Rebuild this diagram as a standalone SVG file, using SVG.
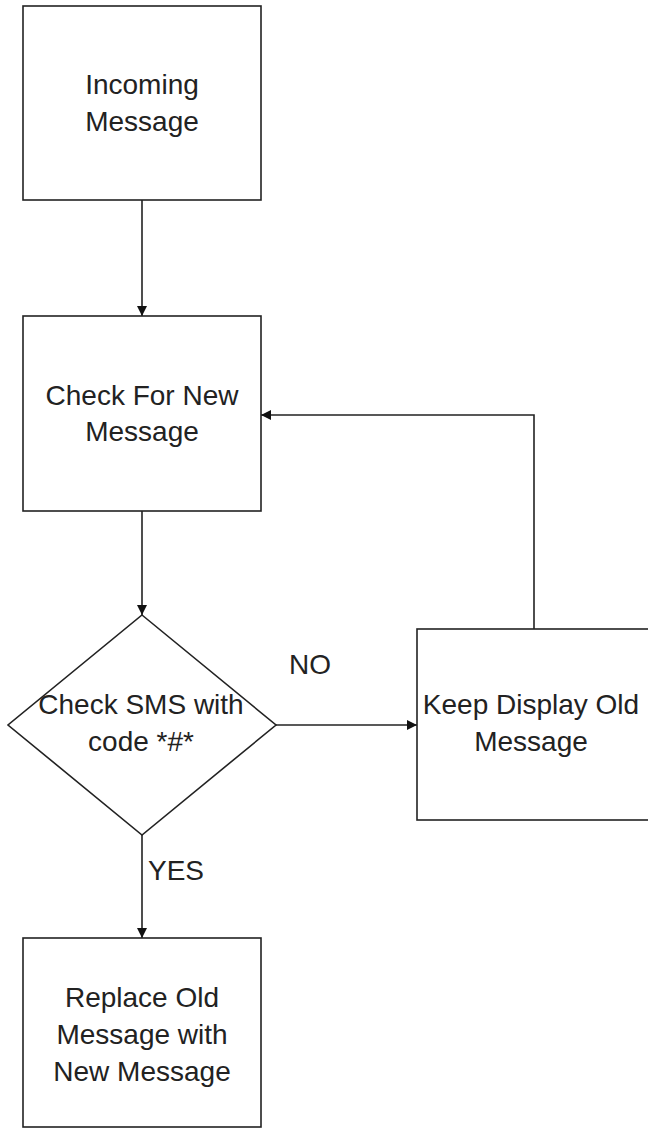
<svg xmlns="http://www.w3.org/2000/svg" width="648" height="1133" viewBox="0 0 648 1133">
<style>
.box{fill:#fff;stroke:#222;stroke-width:1.6}
.t{font-family:"Liberation Sans",Arial,sans-serif;font-size:28px;fill:#222;text-anchor:middle}
.lbl{font-family:"Liberation Sans",Arial,sans-serif;font-size:28px;fill:#222}
.c{fill:none;stroke:#222;stroke-width:1.6}
</style>
<defs>
<marker id="arr" viewBox="0 0 10 10" refX="10" refY="5" markerWidth="10" markerHeight="10" markerUnits="userSpaceOnUse" orient="auto">
<path d="M0,0 L10,5 L0,10 Z" fill="#111"/>
</marker>
</defs>
<rect width="648" height="1133" fill="#fff"/>
<g id="connectors">
<line class="c" x1="142" y1="200" x2="142" y2="316" marker-end="url(#arr)"/>
<line class="c" x1="142" y1="511" x2="142" y2="615" marker-end="url(#arr)"/>
<line class="c" x1="276" y1="725" x2="417" y2="725" marker-end="url(#arr)"/>
<polyline class="c" points="534,629 534,415 261,415" marker-end="url(#arr)"/>
<line class="c" x1="142" y1="835" x2="142" y2="938" marker-end="url(#arr)"/>
<text class="lbl" x="289" y="674">NO</text>
<text class="lbl" x="148" y="880">YES</text>
</g>
<g id="incoming">
<rect class="box" x="23" y="6" width="238" height="194"/>
<text class="t" x="142" y="94">Incoming</text>
<text class="t" x="142" y="131">Message</text>
</g>
<g id="check-new">
<rect class="box" x="23" y="316" width="238" height="195"/>
<text class="t" x="142" y="405">Check For New</text>
<text class="t" x="142" y="441">Message</text>
</g>
<g id="check-sms">
<polygon class="box" points="142,615 276,725 142,835 8,725"/>
<text class="t" x="141" y="714">Check SMS with</text>
<text class="t" x="141" y="751">code *#*</text>
</g>
<g id="keep-old">
<rect class="box" x="417" y="629" width="240" height="191"/>
<text class="t" x="531" y="714">Keep Display Old</text>
<text class="t" x="531" y="751">Message</text>
</g>
<g id="replace">
<rect class="box" x="23" y="938" width="238" height="189"/>
<text class="t" x="142" y="1007">Replace Old</text>
<text class="t" x="142" y="1044">Message with</text>
<text class="t" x="142" y="1081">New Message</text>
</g>
</svg>
